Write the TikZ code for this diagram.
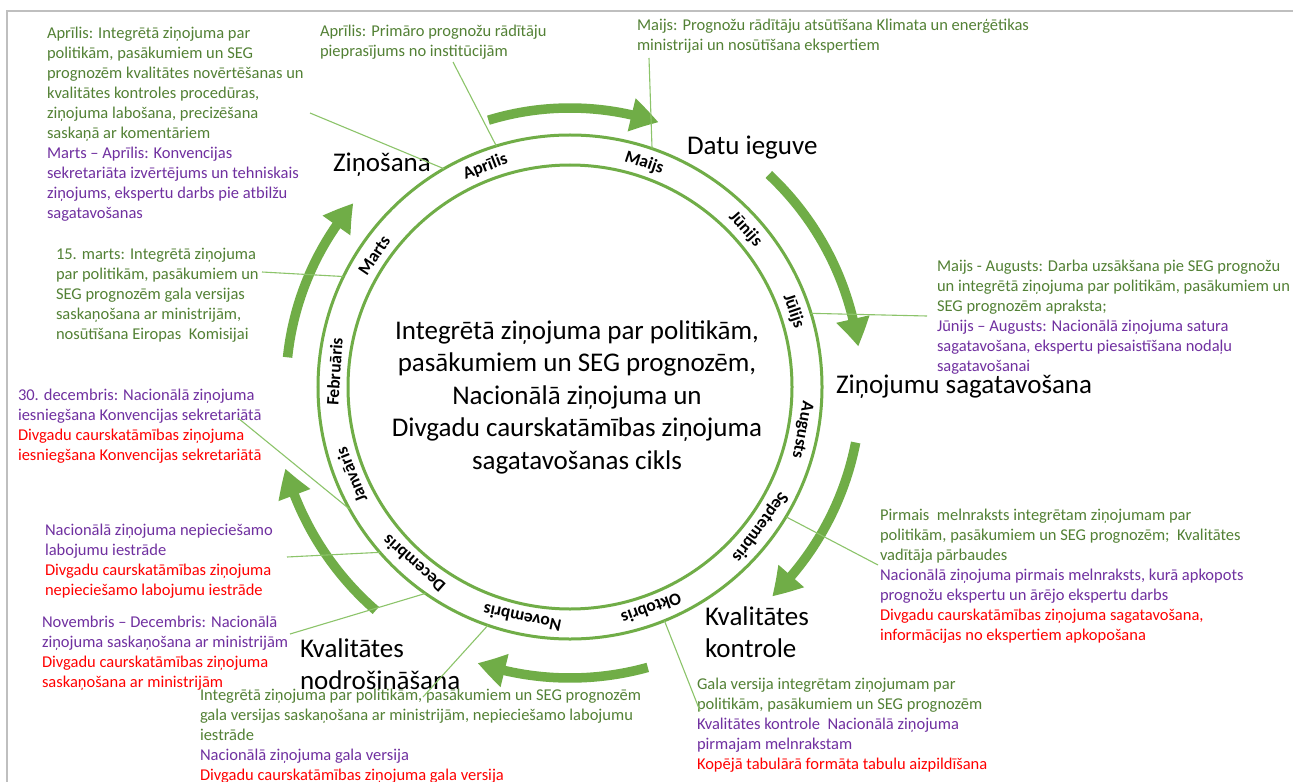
\documentclass[tikz,border=0pt]{standalone}
\usepackage{fontspec}
\setmainfont{Carlito}
\usetikzlibrary{arrows.meta,bending,calc}
\definecolor{ring}{HTML}{70AD47}
\definecolor{lead}{HTML}{8CC46A}
\definecolor{grn}{HTML}{538135}
\definecolor{pur}{HTML}{7030A0}
\definecolor{rd}{HTML}{FF0000}
\definecolor{frame}{HTML}{BFBFBF}

\begin{document}
\begin{tikzpicture}[x=1bp,y=1bp,
  every node/.style={inner sep=0pt, outer sep=0pt},
  note/.style={anchor=north west, align=left, font=\fontsize{16.5bp}{20bp}\selectfont},
  title/.style={font=\fontsize{27bp}{32bp}\selectfont, text=black},
  month/.style={font=\fontsize{17.5bp}{19bp}\selectfont\bfseries},
  ringline/.style={circle, draw=ring, line width=3bp},
  leader/.style={draw=lead, line width=1.1bp},
  cyclearrow/.style={draw=ring, line width=9.5bp, -{Triangle[width=32bp,length=28bp,bend]}}
]
% canvas
\fill[white] (0,0) rectangle (1293,-782);
\useasboundingbox (0,0) rectangle (1293,-782);
\draw[frame, line width=2bp] (7,-790) -- (7,-11) -- (1300,-11);

% ring with the months
\coordinate (C) at (570,-387);
\node[ringline, minimum size=504bp] (outer) at (C) {};
\node[ringline, minimum size=444bp] (inner) at (C) {};

\foreach \m/\a [count=\i] in {Aprīlis/111, Maijs/71.7, Jūnijs/42, Jūlijs/18.7,
    Augusts/-10.5, Septembris/-36.4, Oktobris/-69.8, Novembris/-101.7,
    Decembris/-131.5, Janvāris/-158, Februāris/176.3, Marts/146}
  \node[month, rotate={\a-90}] (month\i) at ($(C)+(\a:236)$) {\m};

% cycle arrows
\draw[cyclearrow] ($(C)+(107:279)$) arc[start angle=107, end angle=71.5, radius=279];
\draw[cyclearrow] ($(C)+(46.9:291)$) arc[start angle=46.9, end angle=8, radius=291];
\draw[cyclearrow] ($(C)+(-11:291)$) arc[start angle=-11, end angle=-46, radius=291];
\draw[cyclearrow] ($(C)+(-74.5:291)$) arc[start angle=-74.5, end angle=-108.5, radius=291];
\draw[cyclearrow] ($(C)+(229:296)$) arc[start angle=229, end angle=196, radius=296];
\draw[cyclearrow] ($(C)+(174:284)$) arc[start angle=174, end angle=139.7, radius=284];

% centre text
\node[align=center, font=\fontsize{27bp}{32.5bp}\selectfont] (centre) at (577,-397)
  {Integrētā ziņojuma par politikām,\\pasākumiem un SEG prognozēm,\\Nacionālā ziņojuma un\\Divgadu caurskatāmības ziņojuma\\sagatavošanas cikls};

% phase titles
\node[title, anchor=west] (zin) at (333,-165) {Ziņošana};
\node[title, anchor=west] (datu) at (687,-148) {Datu ieguve};
\node[title, anchor=west] (sag) at (836,-387) {Ziņojumu sagatavošana};
\node[title, anchor=west, align=left] (kk) at (705,-632) {Kvalitātes\\kontrole};
\node[title, anchor=west, align=left] (kn) at (300,-664) {Kvalitātes\\nodrošināšana};

% notes
\node[note] (nA) at (47,-27) {%
  \textcolor{grn}{Aprīlis: Integrētā ziņojuma par}\\
  \textcolor{grn}{politikām, pasākumiem un SEG}\\
  \textcolor{grn}{prognozēm kvalitātes novērtēšanas un}\\
  \textcolor{grn}{kvalitātes kontroles procedūras,}\\
  \textcolor{grn}{ziņojuma labošana, precizēšana}\\
  \textcolor{grn}{saskaņā ar komentāriem}\\
  \textcolor{pur}{Marts – Aprīlis: Konvencijas}\\
  \textcolor{pur}{sekretariāta izvērtējums un tehniskais}\\
  \textcolor{pur}{ziņojums, ekspertu darbs pie atbilžu}\\
  \textcolor{pur}{sagatavošanas}};
\node[note] (nB) at (320,-25) {%
  \textcolor{grn}{Aprīlis: Primāro prognožu rādītāju}\\
  \textcolor{grn}{pieprasījums no institūcijām}};
\node[note] (nC) at (637,-19) {%
  \textcolor{grn}{Maijs: Prognožu rādītāju atsūtīšana Klimata un enerģētikas}\\
  \textcolor{grn}{ministrijai un nosūtīšana ekspertiem}};
\node[note] (nD) at (937,-260) {%
  \textcolor{grn}{Maijs - Augusts: Darba uzsākšana pie SEG prognožu}\\
  \textcolor{grn}{un integrētā ziņojuma par politikām, pasākumiem un}\\
  \textcolor{grn}{SEG prognozēm apraksta;}\\
  \textcolor{pur}{Jūnijs – Augusts: Nacionālā ziņojuma satura}\\
  \textcolor{pur}{sagatavošana, ekspertu piesaistīšana nodaļu}\\
  \textcolor{pur}{sagatavošanai}};
\node[note] (nE) at (56,-248) {%
  \textcolor{grn}{15. marts: Integrētā ziņojuma}\\
  \textcolor{grn}{par politikām, pasākumiem un}\\
  \textcolor{grn}{SEG prognozēm gala versijas}\\
  \textcolor{grn}{saskaņošana ar ministrijām,}\\
  \textcolor{grn}{nosūtīšana Eiropas\ \ Komisijai}};
\node[note] (nF) at (18,-389) {%
  \textcolor{pur}{30. decembris: Nacionālā ziņojuma}\\
  \textcolor{pur}{iesniegšana Konvencijas sekretariātā}\\
  \textcolor{rd}{Divgadu caurskatāmības ziņojuma}\\
  \textcolor{rd}{iesniegšana Konvencijas sekretariātā}};
\node[note] (nG) at (45,-524) {%
  \textcolor{pur}{Nacionālā ziņojuma nepieciešamo}\\
  \textcolor{pur}{labojumu iestrāde}\\
  \textcolor{rd}{Divgadu caurskatāmības ziņojuma}\\
  \textcolor{rd}{nepieciešamo labojumu iestrāde}};
\node[note] (nH) at (42,-616) {%
  \textcolor{pur}{Novembris – Decembris: Nacionālā}\\
  \textcolor{pur}{ziņojuma saskaņošana ar ministrijām}\\
  \textcolor{rd}{Divgadu caurskatāmības ziņojuma}\\
  \textcolor{rd}{saskaņošana ar ministrijām}};
\node[note] (nI) at (200,-689) {%
  \textcolor{grn}{Integrētā ziņojuma par politikām, pasākumiem un SEG prognozēm}\\
  \textcolor{grn}{gala versijas saskaņošana ar ministrijām, nepieciešamo labojumu}\\
  \textcolor{grn}{iestrāde}\\
  \textcolor{pur}{Nacionālā ziņojuma gala versija}\\
  \textcolor{rd}{Divgadu caurskatāmības ziņojuma gala versija}};
\node[note] (nJ) at (880,-509) {%
  \textcolor{grn}{Pirmais\ \ melnraksts integrētam ziņojumam par}\\
  \textcolor{grn}{politikām, pasākumiem un SEG prognozēm;\ \ Kvalitātes}\\
  \textcolor{grn}{vadītāja pārbaudes}\\
  \textcolor{pur}{Nacionālā ziņojuma pirmais melnraksts, kurā apkopots}\\
  \textcolor{pur}{prognožu ekspertu un ārējo ekspertu darbs}\\
  \textcolor{rd}{Divgadu caurskatāmības ziņojuma sagatavošana,}\\
  \textcolor{rd}{informācijas no ekspertiem apkopošana}};
\node[note] (nK) at (697,-678) {%
  \textcolor{grn}{Gala versija integrētam ziņojumam par}\\
  \textcolor{grn}{politikām, pasākumiem un SEG prognozēm}\\
  \textcolor{pur}{Kvalitātes kontrole\ \ Nacionālā ziņojuma}\\
  \textcolor{pur}{pirmajam melnrakstam}\\
  \textcolor{rd}{Kopējā tabulārā formāta tabulu aizpildīšana}};

% leader lines from the notes to the ring
\coordinate (lA) at (310,-113);
\coordinate (lB) at (453,-62);
\coordinate (lC) at (649,-58);
\coordinate (lD) at (927,-316);
\coordinate (lJ) at (878,-565);
\coordinate (lK) at (700,-711);
\coordinate (lI) at (423,-697);
\coordinate (lG) at (287,-557);
\coordinate (lH) at (290,-634);
\coordinate (lF) at (238,-418);
\coordinate (lE) at (262,-272);
\draw[leader] (lA) -- (outer.120.9);
\draw[leader] (lB) -- (outer.107.9);
\draw[leader] (lC) -- (outer.71.9);
\draw[leader] (lD) -- (outer.17.8);
\draw[leader] (lJ) -- (outer.-31.7);
\draw[leader] (lK) -- (outer.-68.7);
\draw[leader] (lI) -- (outer.-109.7);
\draw[leader] (lG) -- (outer.-139.6);
\draw[leader] (lH) -- (outer.-125.3);
\draw[leader] (lF) -- (outer.-151.5);
\draw[leader] (lE) -- (outer.154.1);
\end{tikzpicture}
\end{document}
